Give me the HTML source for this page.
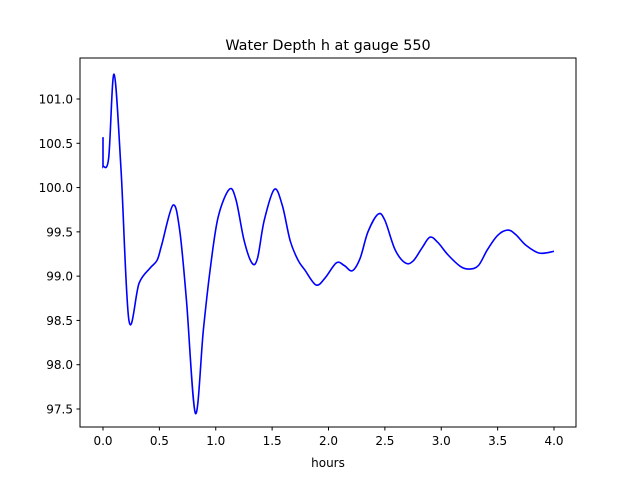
<!DOCTYPE html>
<html><head><meta charset="utf-8"><style>body{margin:0;background:#fff}svg text{font-family:"DejaVu Sans","Liberation Sans",sans-serif;fill:#000}</style></head>
<body>
<svg width="640" height="480">
<rect x="80" y="58" width="496" height="369" fill="#fff" stroke="#000" stroke-width="1"/>
<g id="axes"></g>
<path id="line" fill="none" stroke="#0000ff" stroke-width="1.6"/>
<text x="328" y="50" text-anchor="middle" font-size="14.4">Water Depth h at gauge 550</text>
<text x="328" y="467" text-anchor="middle" font-size="12">hours</text>
</svg>
<script>
const hours=[0,0,0.05,0.098,0.16,0.23,0.32,0.417,0.48,0.52,0.62,0.68,0.74,0.82,0.89,0.95,1.02,1.12,1.18,1.25,1.32,1.37,1.43,1.52,1.59,1.66,1.73,1.79,1.89,1.97,2.07,2.14,2.21,2.28,2.35,2.44,2.5,2.59,2.68,2.75,2.83,2.9,2.97,3.06,3.17,3.25,3.33,3.41,3.5,3.59,3.66,3.75,3.87,4.0];
const depth=[100.57,100.24,100.33,101.28,100.2,98.5,98.92,99.09,99.18,99.35,99.8,99.52,98.73,97.45,98.39,99.07,99.66,99.98,99.86,99.41,99.15,99.2,99.63,99.98,99.8,99.4,99.18,99.07,98.9,98.98,99.15,99.12,99.06,99.2,99.5,99.7,99.63,99.3,99.15,99.17,99.32,99.44,99.38,99.24,99.11,99.08,99.12,99.3,99.46,99.52,99.47,99.35,99.26,99.28];
const xTicks=[0,0.5,1,1.5,2,2.5,3,3.5,4];
const yTicks=[97.5,98,98.5,99,99.5,100,100.5,101];
const X=v=>103+v*112.75, Y=v=>99+(101-v)*88.57;
const ns="http://www.w3.org/2000/svg", g=document.getElementById('axes');
function mk(t,a){const e=document.createElementNS(ns,t);for(const k in a)e.setAttribute(k,a[k]);g.appendChild(e);return e;}
xTicks.forEach(v=>{const l=mk('line',{x1:X(v),x2:X(v),y1:427,y2:430.5,stroke:'#000'});


const t=mk('text',{x:X(v),y:445,'text-anchor':'middle','font-size':12});t.textContent=v.toFixed(1);

});
yTicks.forEach(v=>{const l=mk('line',{x1:76.5,x2:80,y1:Y(v),y2:Y(v),stroke:'#000'});


const t=mk('text',{x:73,y:Y(v)+4.5,'text-anchor':'end','font-size':12});t.textContent=v.toFixed(1);

});
const P=hours.map((h,i)=>[X(h),Y(depth[i])]);
let d=`M${P[0][0]},${P[0][1]} L${P[1][0]},${P[1][1]}`;
for(let i=1;i<P.length-1;i++){const p0=P[i-1<1?1:i-1],p1=P[i],p2=P[i+1],p3=P[Math.min(i+2,P.length-1)];
const c1=[p1[0]+(p2[0]-p0[0])/6,p1[1]+(p2[1]-p0[1])/6],c2=[p2[0]-(p3[0]-p1[0])/6,p2[1]-(p3[1]-p1[1])/6];
d+=` C${c1[0]},${c1[1]} ${c2[0]},${c2[1]} ${p2[0]},${p2[1]}`;}
document.getElementById('line').setAttribute('d',d);
</script>
</body></html>
